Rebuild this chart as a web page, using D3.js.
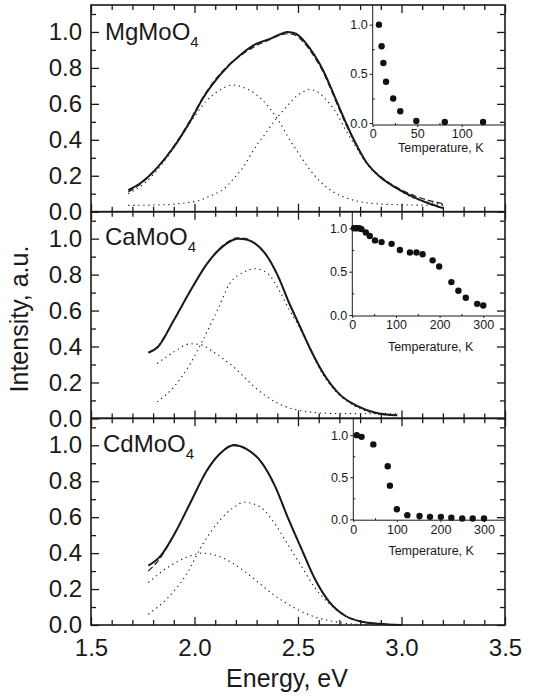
<!DOCTYPE html>
<html><head><meta charset="utf-8">
<script src="https://cdn.jsdelivr.net/npm/d3@7"></script>
<style>
body{margin:0;background:#fff}
svg{display:block}
text{font-family:"Liberation Sans",Arial,Helvetica,sans-serif;fill:#1a1a1a}
</style>
</head><body>
<svg id="c" width="534" height="699"></svg>
<script>
// ---------------- DATA ----------------
const compounds = ["MgMoO", "CaMoO", "CdMoO"];
const energyTicks = [1.5, 2.0, 2.5, 3.0, 3.5];
const intensityTicks = [0, 0.2, 0.4, 0.6, 0.8, 1.0];

// MgMoO4 : [energy eV, intensity]
const mgMeasured = [[1.68,0.12],[1.74,0.16],[1.82,0.245],[1.90,0.36],[1.98,0.505],[2.04,0.63],[2.13,0.77],[2.23,0.88],[2.30,0.935],[2.36,0.96],[2.42,0.99],[2.45,1.0],[2.49,0.99],[2.54,0.935],[2.58,0.87],[2.62,0.79],[2.67,0.66],[2.72,0.525],[2.77,0.40],[2.83,0.275],[2.90,0.19],[2.97,0.135],[3.05,0.085],[3.13,0.047],[3.20,0.02]];
const mgFit = [[1.68,0.11],[1.74,0.155],[1.82,0.245],[1.90,0.365],[1.98,0.51],[2.04,0.635],[2.13,0.775],[2.23,0.875],[2.30,0.925],[2.36,0.955],[2.42,0.985],[2.45,0.99],[2.49,0.98],[2.54,0.925],[2.58,0.86],[2.62,0.78],[2.67,0.65],[2.72,0.515],[2.77,0.395],[2.83,0.275],[2.90,0.195],[2.97,0.14],[3.05,0.095],[3.13,0.063],[3.20,0.045]];
const mgBandLow = [[1.68,0.10],[1.76,0.16],[1.84,0.26],[1.92,0.39],[2.00,0.53],[2.06,0.62],[2.12,0.675],[2.185,0.705],[2.24,0.69],[2.30,0.65],[2.36,0.58],[2.41,0.50],[2.46,0.40],[2.50,0.33],[2.55,0.245],[2.61,0.165],[2.67,0.11],[2.75,0.07],[2.83,0.05],[2.95,0.04],[3.20,0.035]];
const mgBandHigh = [[1.68,0.035],[1.80,0.037],[1.88,0.04],[1.95,0.048],[2.03,0.065],[2.08,0.09],[2.14,0.125],[2.19,0.185],[2.24,0.255],[2.30,0.37],[2.34,0.43],[2.38,0.495],[2.445,0.585],[2.49,0.64],[2.53,0.67],[2.555,0.68],[2.59,0.67],[2.63,0.63],[2.68,0.56],[2.73,0.455],[2.78,0.36],[2.84,0.255],[2.90,0.19],[2.95,0.15],[3.04,0.085],[3.12,0.055],[3.20,0.04]];

// CaMoO4
const caMeasured = [[1.777,0.365],[1.825,0.40],[1.90,0.546],[1.98,0.71],[2.06,0.86],[2.14,0.96],[2.21,1.0],[2.25,0.995],[2.29,0.975],[2.34,0.92],[2.40,0.80],[2.46,0.635],[2.51,0.51],[2.56,0.385],[2.62,0.255],[2.70,0.135],[2.78,0.072],[2.88,0.03],[2.98,0.017]];
const caFit = [[1.82,0.39],[1.90,0.545],[1.98,0.71],[2.06,0.86],[2.14,0.965],[2.21,1.005],[2.25,1.0],[2.29,0.975],[2.34,0.92],[2.40,0.80],[2.46,0.635],[2.51,0.51],[2.56,0.385],[2.62,0.255],[2.70,0.135],[2.78,0.072],[2.88,0.03],[2.98,0.017]];
const caBandLow = [[1.82,0.305],[1.90,0.37],[1.98,0.415],[2.03,0.41],[2.09,0.37],[2.14,0.33],[2.19,0.285],[2.24,0.23],[2.29,0.175],[2.35,0.12],[2.43,0.07],[2.53,0.04],[2.66,0.028],[2.98,0.025]];
const caBandHigh = [[1.82,0.092],[1.90,0.175],[1.98,0.305],[2.04,0.435],[2.11,0.60],[2.17,0.75],[2.24,0.815],[2.29,0.833],[2.35,0.81],[2.41,0.71],[2.46,0.60],[2.51,0.50],[2.56,0.38],[2.62,0.245],[2.70,0.13],[2.78,0.065],[2.88,0.025],[2.98,0.015]];

// CdMoO4
const cdMeasured = [[1.777,0.33],[1.833,0.38],[1.90,0.50],[1.98,0.68],[2.06,0.86],[2.12,0.95],[2.19,1.0],[2.25,0.98],[2.32,0.91],[2.39,0.77],[2.45,0.60],[2.52,0.415],[2.58,0.26],[2.65,0.13],[2.73,0.05],[2.81,0.018],[2.89,0.007],[3.0,0.0]];
const cdFit = [[1.777,0.30],[1.833,0.37],[1.90,0.50],[1.98,0.68],[2.06,0.86],[2.12,0.95],[2.19,1.003],[2.25,0.98],[2.32,0.91],[2.39,0.77],[2.45,0.60],[2.52,0.415],[2.58,0.26],[2.65,0.13],[2.73,0.05],[2.81,0.018],[2.89,0.007],[3.0,0.0]];
const cdBandLow = [[1.777,0.236],[1.87,0.32],[1.96,0.376],[2.04,0.40],[2.11,0.385],[2.19,0.34],[2.28,0.264],[2.38,0.17],[2.48,0.097],[2.58,0.045],[2.67,0.02],[2.77,0.005],[2.90,0.0]];
const cdBandHigh = [[1.777,0.06],[1.87,0.15],[1.96,0.28],[2.04,0.45],[2.12,0.58],[2.19,0.655],[2.24,0.683],[2.32,0.655],[2.39,0.56],[2.45,0.45],[2.52,0.32],[2.58,0.21],[2.65,0.12],[2.73,0.05],[2.81,0.018],[2.89,0.006],[3.0,0.0]];

// Insets: temperature (K) vs normalised intensity
const mgTemp = [7,10,12,15,23,31,49,81,124];
const mgTempI = [1.0,0.78,0.61,0.42,0.25,0.12,0.02,0.01,0.01];
const caTemp = [4,10,16,21,31,40,52,67,90,109,132,147,161,184,199,227,243,260,286,300];
const caTempI = [1.0,1.0,1.0,0.99,0.95,0.91,0.86,0.84,0.82,0.75,0.72,0.72,0.70,0.63,0.56,0.38,0.28,0.20,0.13,0.11];
const cdTemp = [8,19,46,79,84,100,124,152,176,201,225,250,274,300];
const cdTempI = [1.0,0.98,0.89,0.63,0.40,0.12,0.05,0.04,0.03,0.03,0.02,0.01,0.01,0.01];
const insetYTicks = [0, 0.5, 1.0];
const mgTTicks = [0, 50, 100];
const caTTicks = [0, 100, 200, 300];
const cdTTicks = [0, 100, 200, 300];

// ---------------- LAYOUT ----------------
const W = 534, H = 699;
const plotL = 91, plotR = 505;
const panelTops = [5, 211.7, 418.3], panelH = 206.7;
const yDomain = [0, 1.15];
const ink = "#1a1a1a";
const FONT = '"Liberation Sans",Arial,Helvetica,sans-serif';

const panels = [
  {name: compounds[0], meas: mgMeasured, fit: mgFit, bands: [mgBandLow, mgBandHigh], T: mgTemp, I: mgTempI, tTicks: mgTTicks, tMinor: [25,75,125],
   label: {x: 105, y: 40}, inset: {left: 372.7, right: 506.2, bottom: 125, tDom: [0,150], yDom: [-0.02,1.2], titleY: 152}},
  {name: compounds[1], meas: caMeasured, fit: caFit, bands: [caBandLow, caBandHigh], T: caTemp, I: caTempI, tTicks: caTTicks, tMinor: [50,150,250],
   label: {x: 105, y: 245}, inset: {left: 352.3, right: 505.1, bottom: 316, tDom: [0,350], yDom: [-0.01,1.19], titleY: 351}},
  {name: compounds[2], meas: cdMeasured, fit: cdFit, bands: [cdBandLow, cdBandHigh], T: cdTemp, I: cdTempI, tTicks: cdTTicks, tMinor: [50,150,250],
   label: {x: 103, y: 452}, inset: {left: 353.3, right: 505.8, bottom: 520.2, tDom: [0,350], yDom: [-0.01,1.2], titleY: 555}}
];

const svg = d3.select("#c");
svg.append("rect").attr("width", W).attr("height", H).attr("fill", "#fff");
const xE = d3.scaleLinear().domain([1.5, 3.5]).range([plotL, plotR]);

const minorE = d3.range(15, 36).map(v => v / 10).filter(v => Math.abs(v * 2 - Math.round(v * 2)) > 1e-6);
const minorI = d3.range(1, 12, 2).map(v => v / 10);

function styleAxis(g, size) {
  g.select(".domain").remove();
  g.selectAll("line").attr("stroke", ink).attr("stroke-width", 1.3);
  g.selectAll("text").attr("font-size", size).attr("font-family", FONT).attr("fill", ink);
}

panels.forEach((p, i) => {
  const top = panelTops[i], bot = top + panelH;
  const y = d3.scaleLinear().domain(yDomain).range([bot, top]);
  const g = svg.append("g");
  const ln = d3.line().x(d => xE(d[0])).y(d => y(d[1])).curve(d3.curveMonotoneX);

  // Gaussian components (dotted)
  p.bands.forEach(b => {
    g.append("path").attr("d", ln(b)).attr("fill", "none").attr("stroke", ink)
      .attr("stroke-width", 1.1).attr("stroke-dasharray", "1.3,3.7");
  });
  // fit (dashed)
  g.append("path").attr("d", ln(p.fit)).attr("fill", "none").attr("stroke", ink)
    .attr("stroke-width", 1.2).attr("stroke-dasharray", "6,3");
  // measured (solid)
  g.append("path").attr("d", ln(p.meas)).attr("fill", "none").attr("stroke", ink)
    .attr("stroke-width", 2);

  // Axes: left
  g.append("g").attr("transform", `translate(${plotL},0)`)
    .call(d3.axisLeft(y).tickValues(intensityTicks).tickSize(-8).tickPadding(9).tickFormat(d3.format(".1f")))
    .call(a => styleAxis(a, 24));
  g.append("g").attr("transform", `translate(${plotL},0)`)
    .call(d3.axisLeft(y).tickValues(minorI).tickSize(-5).tickFormat(""))
    .call(a => styleAxis(a, 10));
  // right
  g.append("g").attr("transform", `translate(${plotR},0)`)
    .call(d3.axisRight(y).tickValues(intensityTicks).tickSize(-8).tickFormat(""))
    .call(a => styleAxis(a, 10));
  g.append("g").attr("transform", `translate(${plotR},0)`)
    .call(d3.axisRight(y).tickValues(minorI).tickSize(-5).tickFormat(""))
    .call(a => styleAxis(a, 10));
  // top
  g.append("g").attr("transform", `translate(0,${top})`)
    .call(d3.axisTop(xE).tickValues(energyTicks).tickSize(-8).tickFormat(""))
    .call(a => styleAxis(a, 10));
  g.append("g").attr("transform", `translate(0,${top})`)
    .call(d3.axisTop(xE).tickValues(minorE).tickSize(-5).tickFormat(""))
    .call(a => styleAxis(a, 10));
  // bottom
  g.append("g").attr("transform", `translate(0,${bot})`)
    .call(d3.axisBottom(xE).tickValues(energyTicks).tickSize(-8).tickPadding(14)
      .tickFormat(i === 2 ? d3.format(".1f") : ""))
    .call(a => styleAxis(a, 24));
  g.append("g").attr("transform", `translate(0,${bot})`)
    .call(d3.axisBottom(xE).tickValues(minorE).tickSize(-5).tickFormat(""))
    .call(a => styleAxis(a, 10));

  // frame
  g.append("rect").attr("x", plotL).attr("y", top).attr("width", plotR - plotL).attr("height", panelH)
    .attr("fill", "none").attr("stroke", ink).attr("stroke-width", 1.6);

  // compound label
  const t = g.append("text").attr("x", p.label.x).attr("y", p.label.y).attr("font-size", 24);
  t.append("tspan").text(p.name);
  t.append("tspan").attr("dy", 7).attr("font-size", 15).text("4");

  // inset
  const ins = p.inset;
  const xt = d3.scaleLinear().domain(ins.tDom).range([ins.left, ins.right]);
  const yt = d3.scaleLinear().domain(ins.yDom).range([ins.bottom, top]);
  const gi = g.append("g");
  gi.append("line").attr("x1", ins.left).attr("x2", ins.left).attr("y1", top).attr("y2", ins.bottom)
    .attr("stroke", ink).attr("stroke-width", 1.1);
  gi.append("line").attr("x1", ins.left).attr("x2", plotR).attr("y1", ins.bottom).attr("y2", ins.bottom)
    .attr("stroke", ink).attr("stroke-width", 1.1);
  gi.append("g").attr("transform", `translate(${ins.left},0)`)
    .call(d3.axisLeft(yt).tickValues(insetYTicks).tickSize(3).tickPadding(2).tickFormat(d3.format(".1f")))
    .call(a => styleAxis(a, 12.5));
  gi.append("g").attr("transform", `translate(${ins.left},0)`)
    .call(d3.axisLeft(yt).tickValues([0.25, 0.75]).tickSize(-2).tickFormat(""))
    .call(a => styleAxis(a, 10));
  gi.append("g").attr("transform", `translate(0,${ins.bottom})`)
    .call(d3.axisBottom(xt).tickValues(p.tTicks).tickSize(2).tickPadding(2.5).tickFormat(d3.format("d")))
    .call(a => styleAxis(a, 12.5));
  gi.append("g").attr("transform", `translate(0,${ins.bottom})`)
    .call(d3.axisBottom(xt).tickValues(p.tMinor).tickSize(-2).tickFormat(""))
    .call(a => styleAxis(a, 10));
  gi.selectAll("g line").attr("stroke-width", 1);
  gi.append("text").attr("x", (ins.left + plotR) / 2 + 2).attr("y", ins.titleY)
    .attr("text-anchor", "middle").attr("font-size", 12.5).text("Temperature, K");
  gi.selectAll("circle.pt").data(p.T.map((tv, k) => [tv, p.I[k]])).join("circle")
    .attr("class", "pt").attr("cx", d => xt(d[0])).attr("cy", d => yt(d[1])).attr("r", 3.2).attr("fill", "#111");
});

// axis titles
svg.append("text").attr("x", 287).attr("y", 687).attr("text-anchor", "middle").attr("font-size", 25).text("Energy, eV");
svg.append("text").attr("transform", "translate(28,319) rotate(-90)").attr("text-anchor", "middle")
  .attr("font-size", 25).text("Intensity, a.u.");
</script>
</body></html>
